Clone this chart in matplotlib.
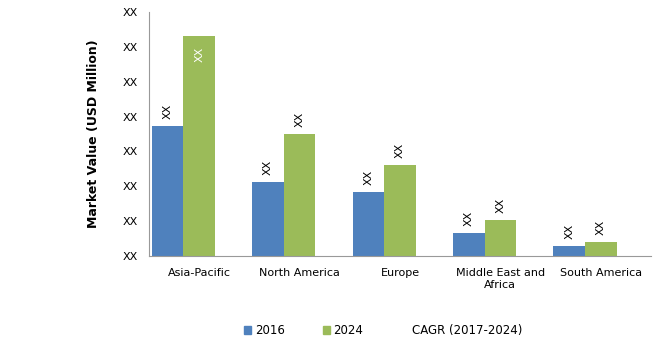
import numpy as np
import matplotlib
matplotlib.use('Agg')
import matplotlib.pyplot as plt
from matplotlib.patches import Patch

regions = ['Asia-Pacific', 'North America', 'Europe', 'Middle East and\nAfrica', 'South America']
values_2016 = [3.72, 2.13, 1.84, 0.66, 0.29]
values_2024 = [6.31, 3.49, 2.62, 1.04, 0.40]
tick_labels = ['XX'] * 8

blue = '#4f81bd'
green = '#9bbb59'

fig = plt.figure(figsize=(6.55, 3.55), dpi=100)
ax = fig.add_axes([149 / 655, 1 - 256 / 355, (651 - 149) / 655, (256 - 12) / 355])

x = np.arange(len(regions))
w = 0.315
b1 = ax.bar(x - w, values_2016, w, color=blue)
b2 = ax.bar(x, values_2024, w, color=green)

for bars in (b1, b2):
    for rect in bars:
        h = rect.get_height()
        cx = rect.get_x() + rect.get_width() / 2
        if h > 6:
            ax.text(cx, h - 0.3, 'XX', rotation=90, ha='center', va='top',
                    fontsize=8, color='white')
        else:
            ax.text(cx, h + 0.2, 'XX', rotation=90, ha='center', va='bottom',
                    fontsize=8, color='black')

ax.set_xlim(-0.5, len(regions) - 0.5)
ax.set_ylim(0, 7)
ax.set_yticks(range(8))
ax.set_yticklabels(tick_labels, fontsize=8)
ax.set_xticks(x)
ax.set_xticklabels(regions, fontsize=8)
ax.tick_params(axis='both', length=0)
ax.tick_params(axis='y', pad=8)
ax.tick_params(axis='x', pad=9)
for s in ['top', 'right']:
    ax.spines[s].set_visible(False)
for s in ['left', 'bottom']:
    ax.spines[s].set_color('#999999')
ax.set_ylabel('Market Value (USD Million)', fontsize=9, fontweight='bold', labelpad=16)

handles = [Patch(color=blue), Patch(color=green), Patch(color='none')]
fig.legend(handles, ['2016', '2024', 'CAGR (2017-2024)'], loc='lower center',
           bbox_to_anchor=(0.585, 0.02), ncol=3, frameon=False, fontsize=8.5,
           handlelength=0.6, handleheight=0.6, handletextpad=0.3, columnspacing=3.2)

plt.savefig('out.png', dpi=100)
